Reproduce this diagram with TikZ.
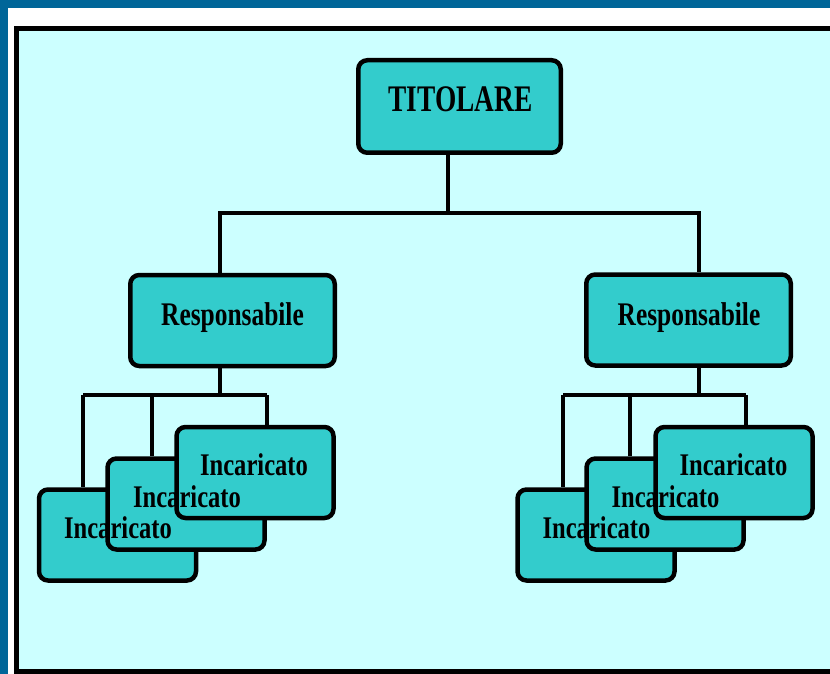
\documentclass[tikz,border=0pt]{standalone}
\usepackage{graphicx}
\usepackage{fontspec}
\setmainfont{Liberation Serif}
\definecolor{frameblue}{RGB}{0,102,153}
\definecolor{panelcyan}{RGB}{204,255,255}
\definecolor{boxteal}{RGB}{51,204,204}
% bold serif squeezed horizontally
\newcommand\boxtext[3]{\fontsize{#1}{#1}\selectfont\bfseries\scalebox{#2}[1]{#3}}
\tikzset{
  orgbox/.style={draw=black, line width=4.5pt, fill=boxteal, rounded corners=9pt, inner sep=0pt},
  topbox/.style={orgbox, minimum width=202.5pt, minimum height=92.5pt},
  midbox/.style={orgbox, minimum width=204.5pt, minimum height=91pt},
  lowbox/.style={orgbox, minimum width=157pt, minimum height=91pt},
  lbl/.style={inner sep=0pt, anchor=base, text=black},
  conn/.style={draw=black, line width=3.8pt},
}
\begin{document}
\begin{tikzpicture}[x=1pt,y=-1pt]
\useasboundingbox (0,0) rectangle (830,674);
\clip (0,0) rectangle (830,674);
% outer frame and panel
\fill[white] (0,0) rectangle (830,674);
\fill[frameblue] (0,0) rectangle (830,8);
\fill[frameblue] (0,0) rectangle (7.5,674);
\fill[panelcyan] (16.5,28.5) rectangle (840,671.5);
\draw[line width=5pt] (840,28.5) -- (16.5,28.5) -- (16.5,671.5) -- (840,671.5);

% boxes
\node[topbox] (tit) at (459.5,106.5) {};
\node[midbox] (rl) at (232.5,320.5) {};
\node[midbox] (rr) at (688.5,320) {};

% junction points
\coordinate (jt) at (448,213);
\coordinate (hl) at (220,213);
\coordinate (hr) at (699,213);
\coordinate (jl) at (220,395);
\coordinate (la) at (83,395);
\coordinate (lb) at (152,395);
\coordinate (lc) at (267,395);
\coordinate (jr) at (699,395);
\coordinate (ra) at (563,395);
\coordinate (rb) at (630,395);
\coordinate (rc) at (746,395);

% left group
\node[lowbox] (la1) at (117.5,535) {};
\node[lowbox] (lb1) at (186,504) {};
\node[lowbox] (lc1) at (255,472.5) {};
% right group
\node[lowbox] (ra1) at (596,535) {};
\node[lowbox] (rb1) at (665,504) {};
\node[lowbox] (rc1) at (734,472.5) {};

% connectors
\draw[conn] (tit.south -| jt) -- (jt);
\draw[conn] (rl.north -| hl) -- (hl) -- (hr) -- (rr.north -| hr);
\draw[conn] (rl.south -| jl) -- (jl);
\draw[conn] (la) -- (lc);
\draw[conn] (la) -- (la1.north -| la);
\draw[conn] (lb) -- (lb1.north -| lb);
\draw[conn] (lc) -- (lc1.north -| lc);
\draw[conn] (rr.south -| jr) -- (jr);
\draw[conn] (ra) -- (rc);
\draw[conn] (ra) -- (ra1.north -| ra);
\draw[conn] (rb) -- (rb1.north -| rb);
\draw[conn] (rc) -- (rc1.north -| rc);

% labels on top of all boxes
\node[lbl] (ttit) at (460.5,112) {\boxtext{37.5}{0.73}{TITOLARE}};
\node[lbl] (trl) at (232.5,325) {\boxtext{33}{0.77}{Responsabile}};
\node[lbl] (trr) at (689,325) {\boxtext{33}{0.77}{Responsabile}};
\node[lbl] (tla) at (118,538) {\boxtext{31.5}{0.78}{Incaricato}};
\node[lbl] (tlb) at (187,507) {\boxtext{31.5}{0.78}{Incaricato}};
\node[lbl] (tlc) at (254,475) {\boxtext{31.5}{0.78}{Incaricato}};
\node[lbl] (tra) at (596.5,538) {\boxtext{31.5}{0.78}{Incaricato}};
\node[lbl] (trb) at (665.5,507) {\boxtext{31.5}{0.78}{Incaricato}};
\node[lbl] (trc) at (733.5,475) {\boxtext{31.5}{0.78}{Incaricato}};
\end{tikzpicture}
\end{document}
